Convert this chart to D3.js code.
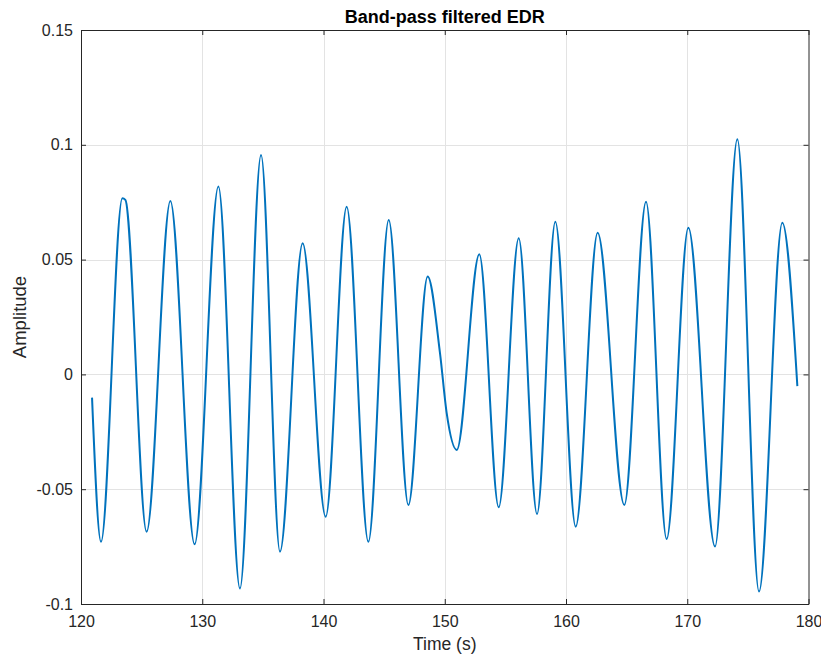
<!DOCTYPE html>
<html>
<head>
<meta charset="utf-8">
<script src="https://cdn.jsdelivr.net/npm/d3@7"></script>
<style>
  html, body { margin: 0; padding: 0; background: #ffffff; }
  svg { display: block; }
  text { font-family: "Liberation Sans", Arial, Helvetica, sans-serif; fill: #262626; }
</style>
</head>
<body>
<svg id="chart" width="821" height="655"></svg>
<script>
// ---- data ----
const times = [120.91, 121.65, 123.41, 123.66, 125.41, 127.37, 129.37, 131.33, 133.11, 134.85,
               136.41, 138.28, 140.18, 141.91, 143.70, 145.38, 147.00, 148.59, 149.61, 150.16,
               150.99, 152.85, 154.45, 156.10, 157.61, 159.12, 160.80, 162.61, 164.81, 166.60,
               168.30, 170.09, 172.29, 174.13, 175.92, 177.84, 179.08];
const amplitudes = [-0.0101, -0.0729, 0.0767, 0.0760, -0.0685, 0.0755, -0.0740, 0.0818, -0.0932, 0.0956,
                    -0.0772, 0.0571, -0.0620, 0.0730, -0.0729, 0.0672, -0.0569, 0.0426, 0.0092, -0.0169,
                    -0.0329, 0.0523, -0.0579, 0.0593, -0.0608, 0.0665, -0.0663, 0.0617, -0.0569, 0.0752,
                    -0.0717, 0.0639, -0.0750, 0.1024, -0.0946, 0.0661, -0.0051];
const xTicks = [120, 130, 140, 150, 160, 170, 180];
const yTicks = [-0.1, -0.05, 0, 0.05, 0.1, 0.15];
const yTickLabels = ["-0.1", "-0.05", "0", "0.05", "0.1", "0.15"];
const titleText = "Band-pass filtered EDR";
const xLabelText = "Time (s)";
const yLabelText = "Amplitude";

// ---- layout ----
const W = 821, H = 655;
const m = { left: 81, top: 30, right: 12.5, bottom: 51 };
const svg = d3.select("#chart");
const x = d3.scaleLinear().domain([120, 180]).range([m.left, W - m.right]);
const y = d3.scaleLinear().domain([-0.1, 0.15]).range([H - m.bottom, m.top]);
const axisColor = "#262626";
const tickLen = 5;

// grid
const grid = svg.append("g");
grid.selectAll("line.gx").data(xTicks.slice(1, -1)).join("line")
  .attr("x1", d => Math.round(x(d)) + 0.5).attr("x2", d => Math.round(x(d)) + 0.5)
  .attr("y1", y(0.15)).attr("y2", y(-0.1))
  .attr("stroke", "#e3e3e3").attr("stroke-width", 1);
grid.selectAll("line.gy").data(yTicks.slice(1, -1)).join("line")
  .attr("y1", d => Math.round(y(d)) + 0.5).attr("y2", d => Math.round(y(d)) + 0.5)
  .attr("x1", x(120)).attr("x2", x(180))
  .attr("stroke", "#e3e3e3").attr("stroke-width", 1);

// data line
const lineGen = d3.line()
  .x((d, i) => x(times[i]))
  .y((d, i) => y(amplitudes[i]))
  .curve(d3.curveMonotoneX);
svg.append("path")
  .datum(amplitudes)
  .attr("d", lineGen)
  .attr("fill", "none")
  .attr("stroke", "#0072BD")
  .attr("stroke-width", 2)
  .attr("stroke-linejoin", "round");

// axes (bottom/left with labels, top/right ticks only), ticks inward
const fmtY = d => yTickLabels[yTicks.indexOf(d)];
const axB = d3.axisBottom(x).tickValues(xTicks).tickSizeInner(-tickLen).tickSizeOuter(0).tickPadding(12).tickFormat(d3.format("d"));
const axT = d3.axisTop(x).tickValues(xTicks).tickSizeInner(-tickLen).tickSizeOuter(0).tickFormat("");
const axL = d3.axisLeft(y).tickValues(yTicks).tickSizeInner(-tickLen).tickSizeOuter(0).tickPadding(8).tickFormat(fmtY);
const axR = d3.axisRight(y).tickValues(yTicks).tickSizeInner(-tickLen).tickSizeOuter(0).tickFormat("");

function styleAxis(g) {
  g.selectAll("path.domain").attr("stroke", axisColor).attr("stroke-width", 1);
  g.selectAll(".tick line").attr("stroke", axisColor).attr("stroke-width", 1);
  g.selectAll(".tick text").attr("fill", axisColor).style("font-size", "16px")
    .style("font-family", "'Liberation Sans', Arial, Helvetica, sans-serif");
}
svg.append("g").attr("transform", `translate(0,${y(-0.1)})`).call(axB).call(styleAxis);
svg.append("g").attr("transform", `translate(0,${y(0.15)})`).call(axT).call(styleAxis);
svg.append("g").attr("transform", `translate(${x(120)},0)`).call(axL).call(styleAxis);
svg.append("g").attr("transform", `translate(${x(180)},0)`).call(axR).call(styleAxis);

// title & labels
svg.append("text")
  .attr("x", (x(120) + x(180)) / 2).attr("y", 23)
  .attr("text-anchor", "middle")
  .style("font-size", "18px").style("font-weight", "bold")
  .style("fill", "#000")
  .text(titleText);
svg.append("text")
  .attr("x", (x(120) + x(180)) / 2).attr("y", 650)
  .attr("text-anchor", "middle")
  .style("font-size", "17.5px")
  .text(xLabelText);
svg.append("text")
  .attr("transform", `translate(26,${(y(-0.1) + y(0.15)) / 2}) rotate(-90)`)
  .attr("text-anchor", "middle")
  .style("font-size", "18.5px")
  .text(yLabelText);
</script>
</body>
</html>
